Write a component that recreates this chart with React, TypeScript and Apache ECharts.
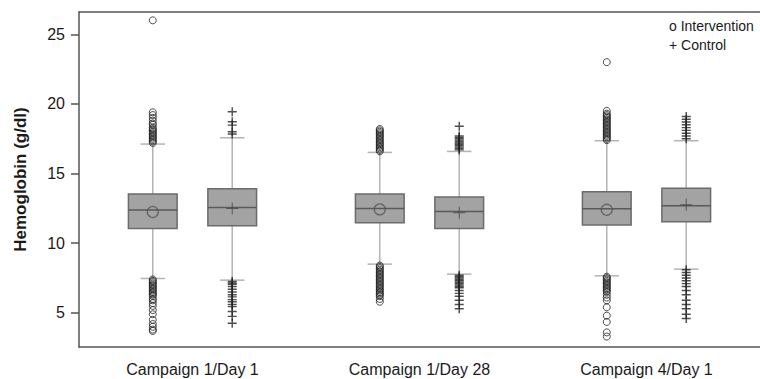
import React, { useEffect, useRef } from "react";
import * as echarts from "echarts";

const categories = ["Campaign 1/Day 1", "Campaign 1/Day 28", "Campaign 4/Day 1"];
const yTicks = [5, 10, 15, 20, 25];

// [lower whisker, Q1, median, Q3, upper whisker]
const interventionBoxes = [
  [7.47, 11.06, 12.38, 13.53, 17.12],
  [8.5, 11.47, 12.5, 13.53, 16.52],
  [7.66, 11.3, 12.47, 13.69, 17.36],
];
const controlBoxes = [
  [7.35, 11.25, 12.57, 13.91, 17.57],
  [7.78, 11.06, 12.28, 13.31, 16.59],
  [8.14, 11.54, 12.69, 13.94, 17.36],
];
const interventionMeans = [12.24, 12.43, 12.4];
const controlMeans = [12.5, 12.18, 12.76];

const interventionOutliers = [
  [17.2, 17.3, 17.4, 17.5, 17.6, 17.7, 17.8, 17.9, 18.0, 18.1, 18.2, 18.3, 18.5, 18.6, 18.8, 19.0, 19.2, 19.4, 26.0,
   7.4, 7.3, 7.2, 7.1, 7.0, 6.9, 6.8, 6.7, 6.6, 6.5, 6.4, 6.3, 6.2, 6.0, 5.9, 5.7, 5.5, 5.2, 4.9, 4.5, 4.2, 4.0, 3.8, 3.7],
  [16.6, 16.7, 16.8, 16.9, 17.0, 17.1, 17.2, 17.3, 17.4, 17.5, 17.6, 17.7, 17.8, 17.9, 18.0, 18.1, 18.2,
   8.4, 8.3, 8.2, 8.1, 8.0, 7.9, 7.8, 7.7, 7.6, 7.5, 7.4, 7.3, 7.2, 7.1, 7.0, 6.9, 6.8, 6.7, 6.6, 6.5, 6.4, 6.3, 6.2, 6.0, 5.8],
  [17.4, 17.5, 17.6, 17.7, 17.8, 17.9, 18.0, 18.1, 18.2, 18.3, 18.4, 18.5, 18.6, 18.7, 18.8, 18.9, 19.0, 19.1, 19.2, 19.3, 19.5, 23.0,
   7.6, 7.5, 7.4, 7.3, 7.2, 7.1, 7.0, 6.9, 6.8, 6.7, 6.6, 6.5, 6.3, 6.1, 5.9, 5.4, 4.8, 4.35, 3.6, 3.3],
];
const controlOutliers = [
  [17.84, 18.0, 18.48, 18.72, 19.44,
   7.25, 7.15, 7.05, 6.9, 6.7, 6.5, 6.3, 6.15, 5.95, 5.8, 5.6, 5.45, 5.1, 4.75, 4.25],
  [16.7, 16.8, 16.9, 17.0, 17.1, 17.2, 17.3, 17.4, 17.5, 17.6, 17.7, 18.4,
   7.7, 7.6, 7.5, 7.4, 7.3, 7.2, 7.1, 7.0, 6.9, 6.8, 6.6, 6.4, 6.2, 5.9, 5.6, 5.3],
  [17.5, 17.7, 17.9, 18.1, 18.3, 18.5, 18.7, 18.9, 19.1,
   8.1, 7.9, 7.7, 7.5, 7.3, 7.1, 6.9, 6.6, 6.3, 5.9, 5.6, 5.3, 4.9, 4.6],
];

const OFFSET = 0.175; // group offset in category units
const BOX_FRAC = 0.2146; // box width as share of category band
const FONT = "'Liberation Sans', Arial, Helvetica, sans-serif";
const AXIS_COLOR = "#555555";

const PLUS_BIG = "path://M4.2,0H5.8V4.2H10V5.8H5.8V10H4.2V5.8H0V4.2H4.2Z";
const PLUS_THIN = "path://M5.5,0H6.5V5.5H12V6.5H6.5V12H5.5V6.5H0V5.5H5.5Z";

function boxSeries(name: string, boxes: number[][], off: number) {
  return {
    name,
    type: "custom",
    xAxisIndex: 1,
    yAxisIndex: 0,
    z: 2,
    encode: { x: 0, y: [1, 2, 3, 4, 5] },
    data: boxes.map((b, i) => [i, ...b]),
    renderItem: (params: any, api: any) => {
      const i = api.value(0);
      const band = api.size([1, 0])[0];
      const w = band * BOX_FRAC;
      const cx = api.coord([i + off, 0])[0];
      const y = (k: number) => api.coord([i + off, api.value(k)])[1];
      const yMin = y(1), yQ1 = y(2), yMed = y(3), yQ3 = y(4), yMax = y(5);
      const wStyle = { stroke: "#b3b3b3", lineWidth: 1.5 };
      return {
        type: "group",
        children: [
          { type: "line", shape: { x1: cx, y1: yMax, x2: cx, y2: yQ3 }, style: wStyle },
          { type: "line", shape: { x1: cx, y1: yQ1, x2: cx, y2: yMin }, style: wStyle },
          { type: "line", shape: { x1: cx - w / 4, y1: yMax, x2: cx + w / 4, y2: yMax }, style: wStyle },
          { type: "line", shape: { x1: cx - w / 4, y1: yMin, x2: cx + w / 4, y2: yMin }, style: wStyle },
          {
            type: "rect",
            shape: { x: cx - w / 2, y: yQ3, width: w, height: yQ1 - yQ3 },
            style: { fill: "#a3a3a3", stroke: "#6b6b6b", lineWidth: 1.5 },
          },
          {
            type: "line",
            shape: { x1: cx - w / 2, y1: yMed, x2: cx + w / 2, y2: yMed },
            style: { stroke: "#5a5a5a", lineWidth: 1.5 },
          },
        ],
      };
    },
  };
}

export default function App() {
  const ref = useRef<HTMLDivElement>(null);
  useEffect(() => {
    if (!ref.current) return;
    const chart = echarts.init(ref.current, undefined, { renderer: "svg" });
    const option: any = {
      animation: false,
      backgroundColor: "#ffffff",
      grid: {
        left: 79,
        top: 12,
        width: 685,
        height: 335,
        show: false,
      },
      xAxis: [
        {
          type: "category",
          data: categories,
          boundaryGap: true,
          position: "bottom",
          axisLine: { onZero: false, lineStyle: { color: AXIS_COLOR, width: 1.5 } },
          axisTick: { alignWithLabel: true, length: 6, lineStyle: { color: AXIS_COLOR, width: 1.5 } },
          axisLabel: { color: "#1a1a1a", fontSize: 16, fontFamily: FONT, margin: 14 },
          splitLine: { show: false },
        },
        {
          type: "value",
          min: -0.5,
          max: 2.5,
          position: "top",
          axisLine: { show: true, onZero: false, lineStyle: { color: AXIS_COLOR, width: 1.5 } },
          axisTick: { show: false },
          axisLabel: { show: false },
          splitLine: { show: false },
        },
      ],
      yAxis: {
        type: "value",
        min: 2.55,
        max: 26.6,
        name: "Hemoglobin (g/dl)",
        nameLocation: "middle",
        nameGap: 50,
        nameTextStyle: { color: "#1a1a1a", fontSize: 17, fontWeight: "bold", fontFamily: FONT },
        axisLine: { show: true, onZero: false, lineStyle: { color: AXIS_COLOR, width: 1.5 } },
        axisTick: { show: true, length: 8, customValues: yTicks, lineStyle: { color: AXIS_COLOR, width: 1.5 } },
        axisLabel: { color: "#1a1a1a", fontSize: 16, fontFamily: FONT, margin: 14, customValues: yTicks },
        splitLine: { show: false },
      },
      graphic: [
        {
          type: "text",
          left: 669,
          top: 19,
          style: { text: "o Intervention", fill: "#1a1a1a", fontSize: 14, fontFamily: FONT },
        },
        {
          type: "text",
          left: 669,
          top: 38,
          style: { text: "+ Control", fill: "#1a1a1a", fontSize: 14, fontFamily: FONT },
        },
      ],
      series: [
        boxSeries("Intervention", interventionBoxes, -OFFSET),
        boxSeries("Control", controlBoxes, OFFSET),
        {
          name: "Intervention outliers",
          type: "scatter",
          xAxisIndex: 1,
          z: 3,
          symbol: "circle",
          symbolSize: 7,
          itemStyle: { color: "rgba(255,255,255,0)", borderColor: "#222222", borderWidth: 1 },
          data: interventionOutliers.flatMap((arr, i) => arr.map((v) => [i - OFFSET, v])),
        },
        {
          name: "Control outliers",
          type: "scatter",
          xAxisIndex: 1,
          z: 3,
          symbol: PLUS_BIG,
          symbolSize: 9,
          itemStyle: { color: "#222222" },
          data: controlOutliers.flatMap((arr, i) => arr.map((v) => [i + OFFSET, v])),
        },
        {
          name: "Intervention mean",
          type: "scatter",
          xAxisIndex: 1,
          z: 4,
          symbol: "circle",
          symbolSize: 11,
          itemStyle: { color: "rgba(255,255,255,0)", borderColor: "#555555", borderWidth: 1.3 },
          data: interventionMeans.map((v, i) => [i - OFFSET, v]),
        },
        {
          name: "Control mean",
          type: "scatter",
          xAxisIndex: 1,
          z: 4,
          symbol: PLUS_THIN,
          symbolSize: 12,
          itemStyle: { color: "#444444" },
          data: controlMeans.map((v, i) => [i + OFFSET, v]),
        },
      ],
    };
    chart.setOption(option);
    return () => chart.dispose();
  }, []);
  return (
    <div
      ref={ref}
      style={{ position: "fixed", left: 0, top: 0, width: 760, height: 379 }}
    />
  );
}
